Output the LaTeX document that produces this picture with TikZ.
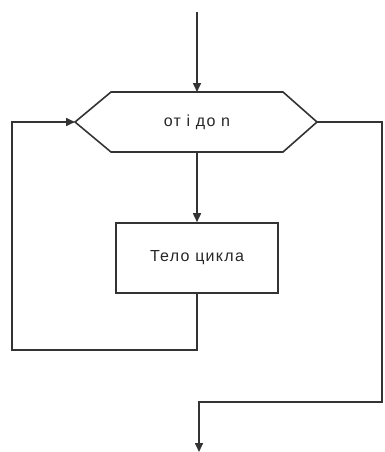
\documentclass[tikz,border=0pt]{standalone}
\usepackage{fontspec}
\setmainfont{Liberation Sans}[LetterSpace=8]
\usetikzlibrary{arrows.meta,shapes.geometric}
\begin{document}
\begin{tikzpicture}[x=1pt,y=-1pt,
  line/.style={draw=black!80,line width=1.6pt},
  arr/.style={line,-{Triangle[length=9pt,width=8pt]}},
  lbl/.style={font=\fontsize{16}{18}\selectfont,text=black!85}]
\useasboundingbox (0,0) rectangle (384,452);
\coordinate (top) at (197,12);
\draw[line,fill=white] (75,122) -- (111,92) -- (283,92) -- (317,122) -- (283,152) -- (111,152) -- cycle;
\node[lbl] (hex) at (197,122) {от i до n};
\coordinate (hexT) at (197,92);
\coordinate (hexB) at (197,152);
\coordinate (hexL) at (75,122);
\coordinate (hexR) at (317,122);
\node[line,minimum width=162pt,minimum height=70pt,lbl] (body) at (197,258) {Тело цикла};
\coordinate (bodyB) at (197,293);
\coordinate (c1) at (197,350);
\coordinate (c2) at (12,350);
\coordinate (c3) at (12,122);
\coordinate (d1) at (382,122);
\coordinate (d2) at (382,402);
\coordinate (d3) at (199,402);
\coordinate (end) at (199,452);
\draw[arr] (top) -- (hexT);
\draw[arr] (hexB) -- (body.north);
\draw[arr] (bodyB) -- (c1) -- (c2) -- (c3) -- (hexL);
\draw[arr] (hexR) -- (d1) -- (d2) -- (d3) -- (end);
\end{tikzpicture}
\end{document}
